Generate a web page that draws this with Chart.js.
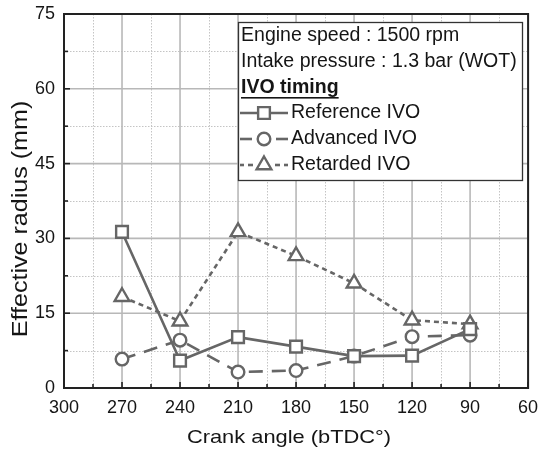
<!DOCTYPE html>
<html>
<head>
<meta charset="utf-8">
<script src="https://cdn.jsdelivr.net/npm/chart.js@4/dist/chart.umd.min.js"></script>
<style>
  html, body { margin: 0; padding: 0; background: #fff; }
  #wrap { width: 539px; height: 455px; position: relative; }
</style>
</head>
<body>
<div id="wrap"><canvas id="c" width="539" height="455"></canvas></div>
<script>
// Crank angle positions (deg bTDC)
const crankAngles = [270, 240, 210, 180, 150, 120, 90];
// Effective radius (mm) for each IVO timing
const referenceIVO = [31.3, 5.5, 10.2, 8.3, 6.4, 6.5, 11.8];
const advancedIVO  = [5.8, 9.6, 3.2, 3.5, 6.4, 10.3, 10.6];
const retardedIVO  = [18.3, 13.4, 31.3, 26.5, 21.0, 13.6, 12.8];
// Axis ticks
const xTicks = [300, 270, 240, 210, 180, 150, 120, 90, 60];
const yTicks = [0, 15, 30, 45, 60, 75];
const xTitle = 'Crank angle (bTDC°)';
const yTitle = 'Effective radius (mm)';
const infoLines = ['Engine speed : 1500 rpm', 'Intake pressure : 1.3 bar (WOT)'];
const legendTitle = 'IVO timing';
const seriesNames = ['Reference IVO', 'Advanced IVO', 'Retarded IVO'];

const LINE = '#666666';
const TEXT = '#151515';
const FONT = '"Liberation Sans", Arial, sans-serif';

function pts(vals) { return crankAngles.map((x, i) => ({ x, y: vals[i] })); }

function ds(label, vals, style, dash, radius) {
  return {
    label, data: pts(vals),
    borderColor: LINE, borderWidth: 2.6, borderDash: dash,
    pointStyle: style, pointRadius: radius,
    pointBorderWidth: 2.4, pointBorderColor: LINE, pointBackgroundColor: '#ffffff',
    tension: 0, fill: false
  };
}

// grid, frame, inward tick marks and axis titles
const framePlugin = {
  id: 'frame',
  beforeDatasetsDraw(chart) {
    const { ctx, chartArea: a, scales: { x, y } } = chart;
    ctx.save();
    // minor dotted grid
    ctx.strokeStyle = '#c4c4c4'; ctx.lineWidth = 1; ctx.setLineDash([1.5, 1.5]);
    for (let v = 75; v < 300; v += 30) {
      const px = Math.round(x.getPixelForValue(v)) + 0.5;
      ctx.beginPath(); ctx.moveTo(px, a.top); ctx.lineTo(px, a.bottom); ctx.stroke();
    }
    for (let v = 7.5; v < 75; v += 15) {
      const py = Math.round(y.getPixelForValue(v)) + 0.5;
      ctx.beginPath(); ctx.moveTo(a.left, py); ctx.lineTo(a.right, py); ctx.stroke();
    }
    // major solid grid
    ctx.setLineDash([]); ctx.strokeStyle = '#b8b8b8'; ctx.lineWidth = 1.6;
    xTicks.forEach(v => {
      const px = x.getPixelForValue(v);
      ctx.beginPath(); ctx.moveTo(px, a.top); ctx.lineTo(px, a.bottom); ctx.stroke();
    });
    yTicks.forEach(v => {
      const py = y.getPixelForValue(v);
      ctx.beginPath(); ctx.moveTo(a.left, py); ctx.lineTo(a.right, py); ctx.stroke();
    });
    ctx.restore();
  },
  afterDatasetsDraw(chart) {
    const { ctx, chartArea: a, scales: { x, y } } = chart;
    ctx.save();
    ctx.strokeStyle = '#222'; ctx.lineWidth = 2;
    ctx.strokeRect(a.left, a.top, a.right - a.left, a.bottom - a.top);
    ctx.lineWidth = 1.6;
    for (let v = 60; v <= 300; v += 15) {
      const px = x.getPixelForValue(v);
      const len = (v % 30 === 0) ? 6 : 4;
      ctx.beginPath(); ctx.moveTo(px, a.bottom); ctx.lineTo(px, a.bottom - len); ctx.stroke();
    }
    for (let v = 0; v <= 75; v += 7.5) {
      const py = y.getPixelForValue(v);
      const len = (v % 15 === 0) ? 6 : 4;
      ctx.beginPath(); ctx.moveTo(a.left, py); ctx.lineTo(a.left + len, py); ctx.stroke();
    }
    // axis titles (slightly widened lettering)
    ctx.fillStyle = TEXT; ctx.textAlign = 'center'; ctx.textBaseline = 'middle';
    ctx.font = '19px ' + FONT;
    ctx.save();
    ctx.translate(289, 438); ctx.scale(1.15, 1);
    ctx.fillText(xTitle, 0, 0);
    ctx.restore();
    ctx.font = '22px ' + FONT;
    ctx.save();
    ctx.translate(21, 219); ctx.rotate(-Math.PI / 2); ctx.scale(1.14, 1);
    ctx.fillText(yTitle, 0, 0);
    ctx.restore();
    ctx.restore();
  }
};

// legend box with operating conditions
const legendPlugin = {
  id: 'infoLegend',
  afterDraw(chart) {
    const { ctx } = chart;
    const bx = 238, by = 22, bw = 284, bh = 158;
    ctx.save();
    ctx.fillStyle = '#fff';
    ctx.fillRect(bx, by, bw, bh);
    ctx.strokeStyle = '#333'; ctx.lineWidth = 1.3;
    ctx.strokeRect(bx + 0.5, by + 0.5, bw, bh);
    // size the text so the longest line fills the box
    ctx.font = '18px ' + FONT;
    const w = ctx.measureText(infoLines[1]).width;
    const fs = 18 * 276 / w;
    ctx.font = fs.toFixed(2) + 'px ' + FONT;
    ctx.fillStyle = TEXT; ctx.textBaseline = 'middle'; ctx.textAlign = 'left';
    const rowY = [36, 62, 88, 113, 139, 165];
    ctx.fillText(infoLines[0], 241, rowY[0]);
    ctx.fillText(infoLines[1], 241, rowY[1]);
    ctx.font = 'bold ' + fs.toFixed(2) + 'px ' + FONT;
    ctx.fillText(legendTitle, 241, rowY[2]);
    const tw = ctx.measureText(legendTitle).width;
    ctx.fillRect(241, rowY[2] + 9, tw, 1.6);
    ctx.font = fs.toFixed(2) + 'px ' + FONT;
    // sample strokes on each side of the marker
    const segs = [
      [[240, 288]],
      [[240, 252], [276, 288]],
      [[240, 244], [248, 253], [275, 280], [284, 288]]
    ];
    chart.data.datasets.forEach((d, i) => {
      const yy = rowY[3 + i];
      ctx.strokeStyle = LINE; ctx.lineWidth = 2.6;
      segs[i].forEach(([x0, x1]) => {
        ctx.beginPath(); ctx.moveTo(x0, yy); ctx.lineTo(x1, yy); ctx.stroke();
      });
      ctx.fillStyle = '#fff'; ctx.lineWidth = 2.4;
      Chart.helpers.drawPoint(ctx, {
        pointStyle: d.pointStyle, radius: d.pointRadius, borderWidth: 2.4
      }, 264, yy);
      ctx.fillStyle = TEXT;
      ctx.fillText(seriesNames[i], 291, yy);
    });
    ctx.restore();
  }
};

new Chart(document.getElementById('c'), {
  type: 'line',
  data: {
    datasets: [
      ds(seriesNames[0], referenceIVO, 'rect', [], 8.3),
      ds(seriesNames[1], advancedIVO, 'circle', [14, 9], 6.3),
      ds(seriesNames[2], retardedIVO, 'triangle', [5, 4], 8.5)
    ]
  },
  options: {
    responsive: false, animation: false,
    layout: { padding: { top: 14, right: 10, left: 0, bottom: 0 } },
    plugins: { legend: { display: false }, tooltip: { enabled: false } },
    scales: {
      x: {
        type: 'linear', min: 60, max: 300, reverse: true,
        afterBuildTicks(s) { s.ticks = xTicks.map(v => ({ value: v })); },
        afterFit(s) { s.height = 67; s.paddingLeft = 0; s.paddingRight = 0; },
        grid: { display: false, drawTicks: false }, border: { display: false },
        ticks: { color: TEXT, font: { family: FONT, size: 18 }, padding: 9, maxRotation: 0, autoSkip: false }
      },
      y: {
        min: 0, max: 75,
        afterBuildTicks(s) { s.ticks = yTicks.map(v => ({ value: v })); },
        afterFit(s) { s.width = 64; s.paddingTop = 0; s.paddingBottom = 0; },
        grid: { display: false, drawTicks: false }, border: { display: false },
        ticks: { color: TEXT, font: { family: FONT, size: 18 }, padding: 9 }
      }
    }
  },
  plugins: [framePlugin, legendPlugin]
});
</script>
</body>
</html>
